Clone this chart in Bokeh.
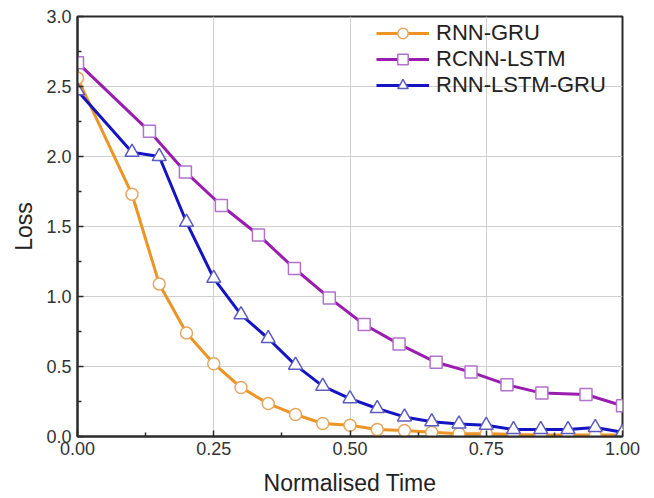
from bokeh.plotting import figure
from bokeh.models import FixedTicker, Range1d, Legend, LegendItem, NumeralTickFormatter
from bokeh.embed import file_html
from bokeh.resources import INLINE

# ---- data ----
gru_x = [0.0, 0.10, 0.15, 0.20, 0.25, 0.30, 0.35, 0.40, 0.45, 0.50,
         0.55, 0.60, 0.65, 0.70, 0.75, 0.80, 0.85, 0.90, 0.95, 1.00]
gru_y = [2.56, 1.73, 1.09, 0.74, 0.52, 0.35, 0.235, 0.157, 0.093, 0.08,
         0.05, 0.043, 0.03, 0.02, 0.02, 0.015, 0.01, 0.01, 0.01, 0.01]

rcnn_x = [0.0, 0.132, 0.198, 0.264, 0.332, 0.398, 0.462, 0.526, 0.59,
          0.658, 0.722, 0.788, 0.852, 0.933, 1.0]
rcnn_y = [2.67, 2.18, 1.89, 1.65, 1.44, 1.20, 0.99, 0.80, 0.66,
          0.53, 0.46, 0.37, 0.31, 0.30, 0.22]

lg_x = gru_x
lg_y = [2.47, 2.03, 2.00, 1.53, 1.13, 0.87, 0.70, 0.51, 0.36, 0.27,
        0.20, 0.14, 0.105, 0.09, 0.08, 0.05, 0.05, 0.05, 0.065, 0.03]

x_ticks = [0.0, 0.25, 0.5, 0.75, 1.0]
x_minor = [0.125, 0.375, 0.625, 0.875]
y_ticks = [0.0, 0.5, 1.0, 1.5, 2.0, 2.5, 3.0]
y_minor = [0.25, 0.75, 1.25, 1.75, 2.25, 2.75]

FONT = "Liberation Sans"

p = figure(output_backend="svg", toolbar_location=None,
           frame_width=545, frame_height=420,
           min_border_left=77, min_border_right=26,
           min_border_top=16, min_border_bottom=58,
           x_range=Range1d(0, 1), y_range=Range1d(0, 3),
           background_fill_color="white", border_fill_color="white")

p.outline_line_color = "#2b2b2b"
p.outline_line_width = 2
p.outline_line_alpha = 1

for ax, ticks, minor in ((p.xaxis[0], x_ticks, x_minor), (p.yaxis[0], y_ticks, y_minor)):
    ax.ticker = FixedTicker(ticks=ticks, minor_ticks=minor)
    ax.axis_line_color = "#2b2b2b"
    ax.axis_line_width = 2
    ax.major_tick_in = 6
    ax.major_tick_out = 0
    ax.minor_tick_in = 4
    ax.minor_tick_out = 0
    ax.major_tick_line_color = "#2b2b2b"
    ax.minor_tick_line_color = "#2b2b2b"
    ax.major_tick_line_width = 1.5
    ax.minor_tick_line_width = 1.5
    ax.major_label_text_font = FONT
    ax.major_label_text_font_size = "18px"
    ax.major_label_text_color = "#333333"
    ax.axis_label_text_font = FONT
    ax.axis_label_text_font_size = "23px"
    ax.axis_label_text_font_style = "normal"
    ax.axis_label_text_color = "#222222"

p.xaxis[0].formatter = NumeralTickFormatter(format="0.00")
p.yaxis[0].formatter = NumeralTickFormatter(format="0.0")
p.xaxis[0].axis_label = "Normalised Time"
p.yaxis[0].axis_label = "Loss"
p.xaxis[0].major_label_standoff = 5
p.yaxis[0].major_label_standoff = 6
p.xaxis[0].axis_label_standoff = 12
p.yaxis[0].axis_label_standoff = 6

p.xgrid.ticker = FixedTicker(ticks=x_ticks)
p.ygrid.ticker = FixedTicker(ticks=y_ticks)
p.xgrid.grid_line_color = "#cfcfcf"
p.ygrid.grid_line_color = "#cfcfcf"
p.xgrid.grid_line_width = 1
p.ygrid.grid_line_width = 1

orange = "#EC9424"
purple = "#9A1DB0"
blue = "#1414C4"

l1 = p.line(gru_x, gru_y, line_color=orange, line_width=3)
m1 = p.scatter(gru_x, gru_y, marker="circle", size=12, fill_color="white",
               line_color="#E6A660", line_width=1.5)
l2 = p.line(rcnn_x, rcnn_y, line_color=purple, line_width=3)
m2 = p.scatter(rcnn_x, rcnn_y, marker="square", size=12, fill_color="white",
               line_color="#B272CC", line_width=1.5)
l3 = p.line(lg_x, lg_y, line_color=blue, line_width=3)
m3 = p.scatter(lg_x, lg_y, marker="triangle", size=14, fill_color="white",
               line_color="#5C5CC0", line_width=1.5)

legend = Legend(items=[
    LegendItem(label="RNN-GRU", renderers=[l1, m1]),
    LegendItem(label="RCNN-LSTM", renderers=[l2, m2]),
    LegendItem(label="RNN-LSTM-GRU", renderers=[l3, m3]),
], location=(299, 338))
legend.border_line_color = None
legend.background_fill_alpha = 0
legend.padding = 0
legend.margin = 0
legend.spacing = 0
legend.glyph_width = 53
legend.glyph_height = 26
legend.label_height = 26
legend.label_standoff = 7
legend.label_text_font = FONT
legend.label_text_font_size = "22px"
legend.label_text_color = "#222222"
p.add_layout(legend, "center")

open("out.html", "w").write(file_html(p, INLINE))
